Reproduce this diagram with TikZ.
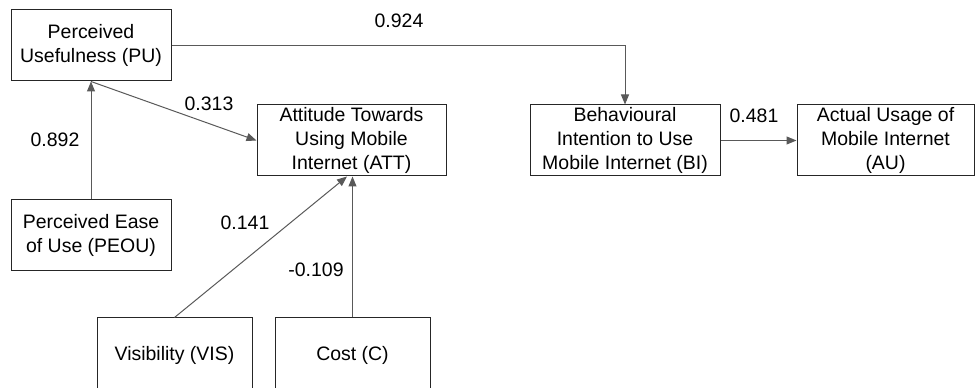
\documentclass[tikz,border=0pt]{standalone}
\usepackage{fontspec}
\setmainfont{Liberation Sans}
\usetikzlibrary{arrows.meta,calc}
\begin{document}
\begin{tikzpicture}[x=0.75pt,y=-0.75pt,
  box/.style={draw=black!85, line width=0.75pt, rectangle, inner sep=0pt, align=center,
    font=\fontsize{14.6}{17.8}\selectfont},
  arr/.style={draw=black!65, line width=0.75pt, -{Triangle[length=7.5pt,width=6pt]}},
  coef/.style={inner sep=0pt, font=\fontsize{14.6}{17.8}\selectfont}]
\useasboundingbox (0,0) rectangle (975,388);
\node[box, minimum width=120pt, minimum height=53.25pt] (PU) at (91,45.5) {Perceived\\Usefulness (PU)};
\node[box, minimum width=120pt, minimum height=53.25pt] (PEOU) at (91,235.5) {Perceived Ease\\of Use (PEOU)};
\node[box, minimum width=141.75pt, minimum height=53.25pt] (ATT) at (351.5,140.5) {Attitude Towards\\Using Mobile\\Internet (ATT)};
\node[box, minimum width=142.5pt, minimum height=53.25pt] (BI) at (625,140.5) {Behavioural\\Intention to Use\\Mobile Internet (BI)};
\node[box, minimum width=132.75pt, minimum height=53.25pt] (AU) at (885.5,140.5) {Actual Usage of\\Mobile Internet\\(AU)};
\node[box, minimum width=116.25pt, minimum height=55.5pt] (VIS) at (174.5,355) {Visibility (VIS)};
\node[box, minimum width=116.25pt, minimum height=55.5pt] (C) at (352.5,355) {Cost (C)};
\draw[arr] (PU.east) -| (BI.north);
\draw[arr] (PU.south) -- (ATT.west);
\draw[arr] (PEOU.north) -- (PU.south);
\draw[arr] (VIS.north) -- ($(ATT.south)+(-4.5,0)$);
\draw[arr] (C.north) -- (C.north |- ATT.south);
\draw[arr] (BI.east) -- (AU.west);
\node[coef] (l1) at (399,20.5) {0.924};
\node[coef] (l2) at (209,104) {0.313};
\node[coef] (l3) at (55,140) {0.892};
\node[coef] (l4) at (245,223) {0.141};
\node[coef] (l5) at (316,270) {-0.109};
\node[coef] (l6) at (754,116) {0.481};
\end{tikzpicture}
\end{document}
